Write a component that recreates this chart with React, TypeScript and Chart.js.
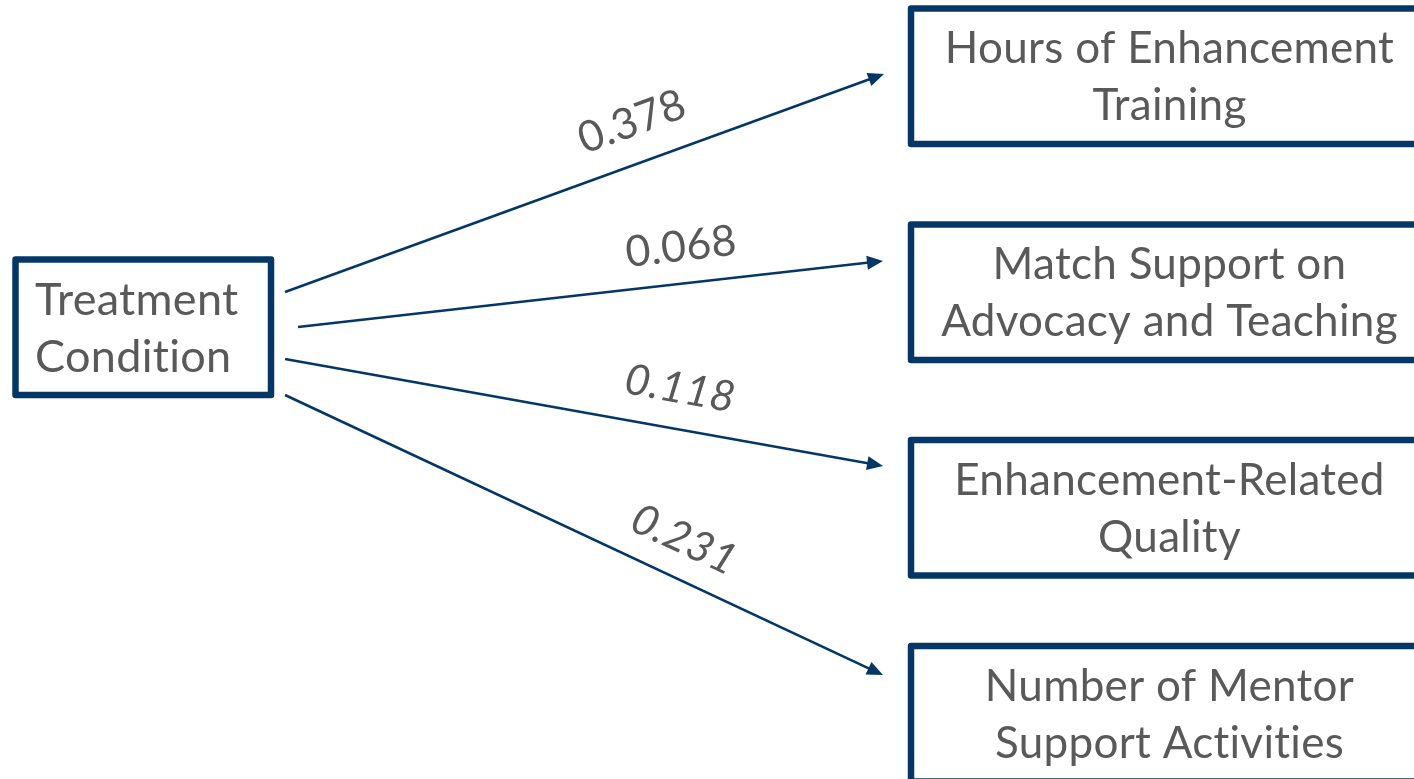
import React, { useEffect, useRef } from "react";
import { Chart, registerables } from "chart.js";

Chart.register(...registerables);

// ---------- data ----------
const sourceLabel = ["Treatment", "Condition"];
const outcomeLabels = [
  ["Hours of Enhancement", "Training"],
  ["Match Support on", "Advocacy and Teaching"],
  ["Enhancement-Related", "Quality"],
  ["Number of Mentor", "Support Activities"],
];
const pathCoefficients = ["0.378", "0.068", "0.118", "0.231"];
const coefficientItalic = [false, false, true, true];

// ---------- layout (diagram coordinate space = pixels of the page) ----------
const W = 1414;
const H = 779;
const NAVY = "#043766";
const TEXT = "#595959";
const FONT = "Lato, 'Open Sans', 'Noto Sans', sans-serif";
const BOX_FONT_PX = 44;
const SOURCE_FONT_PX = 45;
const LABEL_FONT_PX = 43;
const LINE_GAP = 57;

const sourceBox = { x0: 15.5, y0: 259.5, x1: 271, y1: 395, textX: 35, baseline: 315 };
const outcomeBoxX0 = 911;
const outcomeBoxX1 = 1424;
const outcomeBoxH = 135.5;
const outcomeBoxTops = [8.5, 224.5, 440, 646];
const outcomeTextX = 1169.5;
const arrowStarts = [
  [285, 292],
  [298, 327],
  [285, 359],
  [285, 395],
];
const arrowTips = [
  [884, 74],
  [883, 261],
  [883, 466],
  [883, 675],
];
const labelCenters = [
  [632, 122],
  [681, 247],
  [680, 389],
  [684, 540],
];
const HEAD_LEN = 16;
const HEAD_HALF = 7;

function headBase(i: number) {
  const [sx, sy] = arrowStarts[i];
  const [tx, ty] = arrowTips[i];
  const L = Math.hypot(tx - sx, ty - sy);
  return { x: tx - ((tx - sx) / L) * (HEAD_LEN - 2), y: ty - ((ty - sy) / L) * (HEAD_LEN - 2) };
}

const diagramPlugin = {
  id: "pathDiagram",
  afterDatasetsDraw(chart: any) {
    const ctx: any = chart.ctx;
    const xs = chart.scales.x;
    const ys = chart.scales.y;
    const px = (v: number) => xs.getPixelForValue(v);
    const py = (v: number) => ys.getPixelForValue(v);

    ctx.save();
    // boxes
    ctx.strokeStyle = NAVY;
    ctx.lineWidth = 6.5;
    ctx.lineJoin = "round";
    ctx.strokeRect(px(sourceBox.x0), py(sourceBox.y0), px(sourceBox.x1) - px(sourceBox.x0), py(sourceBox.y1) - py(sourceBox.y0));
    outcomeBoxTops.forEach((top) => {
      ctx.strokeRect(px(outcomeBoxX0), py(top), px(outcomeBoxX1) - px(outcomeBoxX0), py(top + outcomeBoxH) - py(top));
    });

    // box texts (a tiny letter spacing disables the "ti" ligature)
    if ("letterSpacing" in ctx) ctx.letterSpacing = "0.3px";
    ctx.fillStyle = TEXT;
    ctx.textBaseline = "alphabetic";
    ctx.textAlign = "left";
    ctx.font = `${SOURCE_FONT_PX}px ${FONT}`;
    sourceLabel.forEach((t, j) => {
      ctx.fillText(t, px(sourceBox.textX), py(sourceBox.baseline + j * LINE_GAP));
    });
    ctx.textAlign = "center";
    ctx.font = `${BOX_FONT_PX}px ${FONT}`;
    outcomeLabels.forEach((lines, i) => {
      const top = outcomeBoxTops[i];
      lines.forEach((t, j) => {
        ctx.fillText(t, px(outcomeTextX), py(top + 54.5 + j * LINE_GAP));
      });
    });

    // arrowheads
    ctx.fillStyle = NAVY;
    arrowTips.forEach((tip, i) => {
      const [sx, sy] = arrowStarts[i];
      const tx = px(tip[0]);
      const ty = py(tip[1]);
      const a = Math.atan2(ty - py(sy), tx - px(sx));
      ctx.save();
      ctx.translate(tx, ty);
      ctx.rotate(a);
      ctx.beginPath();
      ctx.moveTo(0, 0);
      ctx.lineTo(-HEAD_LEN, -HEAD_HALF);
      ctx.lineTo(-HEAD_LEN, HEAD_HALF);
      ctx.closePath();
      ctx.fill();
      ctx.restore();
    });

    // coefficient labels
    ctx.fillStyle = TEXT;
    ctx.textAlign = "center";
    ctx.textBaseline = "middle";
    pathCoefficients.forEach((lab, i) => {
      const [sx, sy] = arrowStarts[i];
      const [tx, ty] = arrowTips[i];
      const a = Math.atan2(py(ty) - py(sy), px(tx) - px(sx));
      const [cx, cy] = labelCenters[i];
      ctx.save();
      ctx.translate(px(cx), py(cy));
      ctx.rotate(a);
      ctx.font = `${coefficientItalic[i] ? "italic " : ""}${LABEL_FONT_PX}px ${FONT}`;
      ctx.fillText(lab, 0, 0);
      ctx.restore();
    });
    ctx.restore();
  },
};

export default function App() {
  const ref = useRef<HTMLCanvasElement | null>(null);

  useEffect(() => {
    document.body.style.margin = "0";
    document.body.style.background = "#ffffff";
    if (!ref.current) return;
    const datasets = arrowStarts.map((s, i) => {
      const b = headBase(i);
      return {
        label: `path ${pathCoefficients[i]}`,
        data: [
          { x: s[0], y: s[1] },
          { x: b.x, y: b.y },
        ],
        showLine: true,
        borderColor: NAVY,
        borderWidth: 2.6,
        pointRadius: 0,
        fill: false,
      };
    });
    const chart = new Chart(ref.current, {
      type: "scatter",
      data: { datasets },
      options: {
        animation: false,
        responsive: false,
        devicePixelRatio: 1,
        layout: { padding: 0 },
        plugins: { legend: { display: false }, tooltip: { enabled: false } },
        scales: {
          x: { type: "linear", min: 0, max: W, display: false },
          y: { type: "linear", min: 0, max: H, reverse: true, display: false },
        },
      },
      plugins: [diagramPlugin],
    } as any);
    return () => chart.destroy();
  }, []);

  return (
    <div style={{ width: W, height: H, background: "#fff" }}>
      <canvas ref={ref} width={W} height={H} style={{ display: "block", width: W, height: H }} />
    </div>
  );
}
